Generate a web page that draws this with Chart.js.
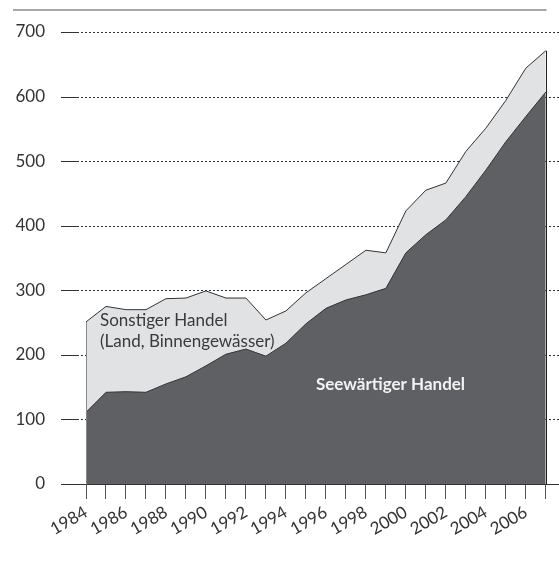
<!DOCTYPE html>
<html>
<head>
<meta charset="utf-8">
<script src="https://cdn.jsdelivr.net/npm/chart.js@4"></script>
<style>
  html, body { margin: 0; padding: 0; background: #fff; }
  #chart { display: block; }
</style>
</head>
<body>
<canvas id="chart" width="559" height="563"></canvas>
<script>
'use strict';

// Jahre 1984 - 2007
var years = ['1984', '1985', '1986', '1987', '1988', '1989', '1990', '1991',
             '1992', '1993', '1994', '1995', '1996', '1997', '1998', '1999',
             '2000', '2001', '2002', '2003', '2004', '2005', '2006', '2007'];

// Seewärtiger Handel (unten, dunkel)
var seewaertig = [111, 142, 143, 142, 155, 166, 183, 201, 209, 198, 218, 248,
                  272, 285, 293, 303, 358, 386, 409, 445, 486, 530, 569, 607];

// Sonstiger Handel (Land, Binnengewässer), oben drauf gestapelt
var sonstig = [140, 133, 127, 128, 132, 122, 116, 87, 79, 56, 50, 48,
               46, 55, 69, 55, 65, 69, 57, 70, 65, 64, 75, 64];

var yTicks = [0, 100, 200, 300, 400, 500, 600, 700];

var FONT = 'Lato, "Open Sans", sans-serif';

// Gitterlinien, Rahmen und Beschriftungen im Diagramm
var frame = {
  id: 'frame',
  beforeDatasetsDraw: function(chart) {
    var ctx = chart.ctx;
    var y = chart.scales.y;
    var area = chart.chartArea;
    ctx.save();
    ctx.lineWidth = 1;
    ctx.strokeStyle = '#333';
    yTicks.forEach(function(v) {
      var py = Math.round(y.getPixelForValue(v)) + 0.5;
      ctx.setLineDash([]);
      ctx.beginPath();
      ctx.moveTo(area.left - 25, py);
      ctx.lineTo(area.left - 9, py);
      ctx.stroke();
      if (v > 0) {
        ctx.setLineDash([2, 2]);
        ctx.beginPath();
        ctx.moveTo(area.left - 9, py);
        ctx.lineTo(chart.width, py);
        ctx.stroke();
      }
    });
    ctx.restore();
  },
  afterDatasetsDraw: function(chart) {
    var ctx = chart.ctx;
    var x = chart.scales.x;
    var y = chart.scales.y;
    var area = chart.chartArea;
    var last = years.length - 1;
    ctx.save();

    // Nulllinie
    var y0 = Math.round(y.getPixelForValue(0)) + 0.5;
    ctx.strokeStyle = '#333';
    ctx.lineWidth = 1;
    ctx.beginPath();
    ctx.moveTo(area.left - 25, y0);
    ctx.lineTo(chart.width, y0);
    ctx.stroke();

    // rechte Kante
    var xr = Math.round(x.getPixelForValue(last)) + 0.5;
    ctx.strokeStyle = '#222';
    ctx.beginPath();
    ctx.moveTo(xr, y.getPixelForValue(seewaertig[last] + sonstig[last]));
    ctx.lineTo(xr, y0);
    ctx.stroke();

    // linke Kante
    var xl = Math.round(x.getPixelForValue(0)) + 0.5;
    ctx.strokeStyle = '#888';
    ctx.beginPath();
    ctx.moveTo(xl, y.getPixelForValue(seewaertig[0] + sonstig[0]));
    ctx.lineTo(xl, y0);
    ctx.stroke();

    // obere Linie
    ctx.strokeStyle = '#8a8a8a';
    ctx.lineWidth = 1.5;
    ctx.beginPath();
    ctx.moveTo(13, 10);
    ctx.lineTo(xr, 10);
    ctx.stroke();

    // Beschriftungen
    ctx.textAlign = 'left';
    ctx.textBaseline = 'alphabetic';
    ctx.fillStyle = '#3a3a3a';
    ctx.font = '17px ' + FONT;
    var tx = x.getPixelForValue(0) + 14;
    ctx.fillText('Sonstiger Handel', tx, y.getPixelForValue(244));
    ctx.fillText('(Land, Binnengewässer)', tx, y.getPixelForValue(212));

    ctx.fillStyle = '#f2f2f2';
    ctx.font = 'bold 17px ' + FONT;
    ctx.fillText('Seewärtiger Handel', x.getPixelForValue(11) + 10, y.getPixelForValue(146));
    ctx.restore();
  }
};

new Chart(document.getElementById('chart'), {
  type: 'line',
  data: {
    labels: years,
    datasets: [
      {
        label: 'Seewärtiger Handel',
        data: seewaertig,
        fill: 'origin',
        backgroundColor: '#5f6064',
        borderColor: '#333',
        borderWidth: 1,
        pointRadius: 0,
        tension: 0
      },
      {
        label: 'Sonstiger Handel',
        data: sonstig,
        fill: '-1',
        backgroundColor: '#e1e2e4',
        borderColor: '#333',
        borderWidth: 1,
        pointRadius: 0,
        tension: 0
      }
    ]
  },
  options: {
    responsive: false,
    animation: false,
    layout: { padding: { left: 0, top: 32, right: 10, bottom: 0 } },
    plugins: {
      legend: { display: false },
      tooltip: { enabled: false }
    },
    scales: {
      x: {
        offset: false,
        border: { display: false },
        grid: {
          display: true,
          drawOnChartArea: false,
          drawTicks: true,
          tickLength: 15,
          color: '#555'
        },
        ticks: {
          autoSkip: false,
          minRotation: 30,
          maxRotation: 30,
          padding: 3,
          color: '#333',
          font: { family: FONT, size: 17 },
          callback: function(val, i) {
            return i % 2 === 0 ? years[i] : '';
          }
        },
        afterFit: function(scale) { scale.height = 79; }
      },
      y: {
        stacked: true,
        min: 0,
        max: 700,
        border: { display: false },
        // unsichtbare Ticks als Abstand zwischen Zahl und Achse
        grid: {
          display: true,
          drawOnChartArea: false,
          drawTicks: true,
          tickLength: 41,
          color: 'rgba(0,0,0,0)'
        },
        ticks: {
          stepSize: 100,
          padding: 0,
          color: '#333',
          font: { family: FONT, size: 17 }
        },
        afterFit: function(scale) { scale.width = 86; }
      }
    }
  },
  plugins: [frame]
});
</script>
</body>
</html>
